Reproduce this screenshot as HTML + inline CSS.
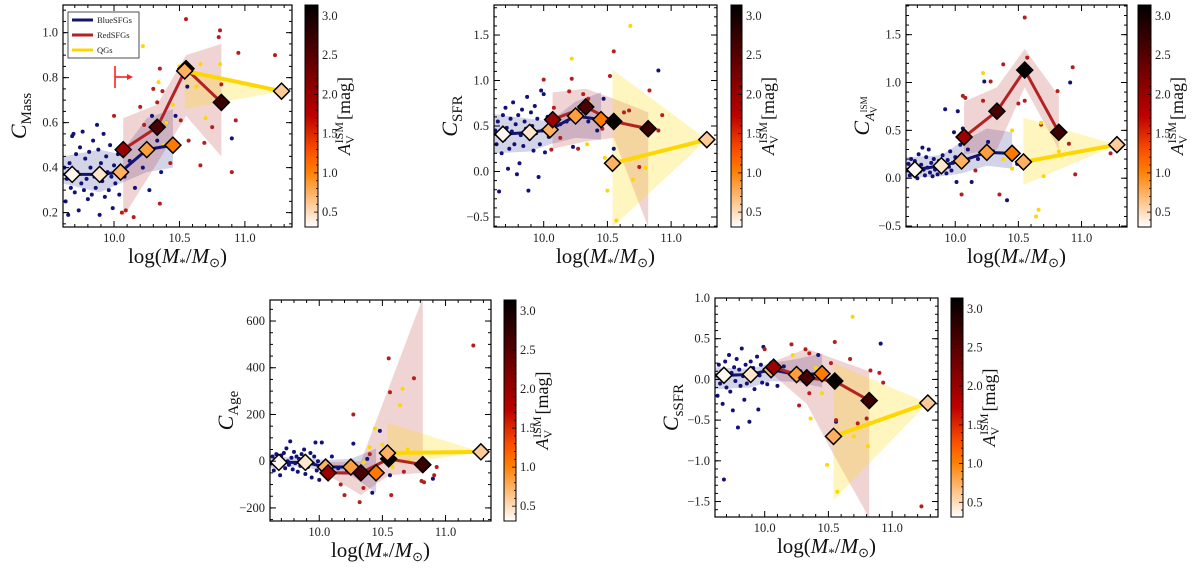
<!DOCTYPE html>
<html><head><meta charset="utf-8">
<style>
html,body{margin:0;padding:0;background:#fff;}
svg{display:block;font-family:"Liberation Serif",serif;}
</style></head>
<body>
<svg id="fig" width="1200" height="569" viewBox="0 0 1200 569" xmlns="http://www.w3.org/2000/svg"></svg>
<script>
// ---------- shared data ----------
const blueX = [9.68, 9.89, 10.05, 10.25, 10.45];
const redX = [10.07, 10.33, 10.55, 10.82];
const qgX = [10.54, 11.28];
const blueAv = [0.35, 0.45, 0.75, 0.85, 1.05];
const redAv = [2.0, 2.6, 3.1, 2.7];
const qgAv = [0.75, 0.6];
const xTicks = [10.0, 10.5, 11.0];
const xTickLabels = ["10.0", "10.5", "11.0"];
const cbTicks = [0.5, 1.0, 1.5, 2.0, 2.5, 3.0];
const cbTickLabels = ["0.5", "1.0", "1.5", "2.0", "2.5", "3.0"];

// ---------- panel 1: C_Mass ----------
const massBlue = [0.37, 0.37, 0.38, 0.48, 0.50];
const massBlueLo = [0.33, 0.29, 0.33, 0.38, 0.40];
const massBlueHi = [0.45, 0.48, 0.46, 0.62, 0.66];
const massRed = [0.48, 0.58, 0.84, 0.69];
const massRedLo = [0.18, 0.42, 0.63, 0.45];
const massRedHi = [0.62, 0.68, 0.90, 0.95];
const massQg = [0.83, 0.74];
const massQgLo = [0.66, 0.74];
const massQgHi = [0.84, 0.74];
const massYTicks = [0.2, 0.4, 0.6, 0.8, 1.0];
const massYLabels = ["0.2", "0.4", "0.6", "0.8", "1.0"];
const massDotsBlue = [[9.62,0.40],[9.63,0.25],[9.64,0.35],[9.65,0.19],[9.66,0.42],[9.67,0.31],[9.68,0.54],[9.69,0.55],[9.70,0.29],[9.71,0.46],[9.72,0.38],[9.73,0.21],[9.74,0.49],[9.75,0.33],[9.76,0.56],[9.77,0.30],[9.78,0.44],[9.79,0.35],[9.80,0.26],[9.81,0.47],[9.82,0.40],[9.83,0.28],[9.84,0.52],[9.85,0.36],[9.86,0.31],[9.87,0.59],[9.88,0.48],[9.89,0.19],[9.90,0.42],[9.91,0.34],[9.92,0.55],[9.93,0.27],[9.94,0.45],[9.95,0.38],[9.96,0.30],[9.97,0.50],[9.98,0.36],[9.99,0.22],[10.00,0.41],[10.01,0.33],[10.03,0.46],[10.04,0.28],[10.08,0.36],[10.12,0.43],[10.16,0.31],[10.22,0.40],[10.27,0.30],[10.29,0.63],[10.33,0.52],[10.36,0.38],[10.40,0.60],[10.47,0.63],[10.56,0.76],[10.90,0.53]];
const massDotsRed = [[10.00,0.63],[10.06,0.20],[10.09,0.21],[10.15,0.18],[10.20,0.67],[10.23,0.59],[10.30,0.75],[10.33,0.69],[10.35,0.84],[10.37,0.74],[10.35,0.24],[10.43,0.42],[10.51,0.61],[10.55,1.06],[10.57,0.52],[10.66,0.41],[10.69,0.51],[10.75,0.58],[10.80,0.98],[10.81,1.01],[10.82,0.77],[10.90,0.38],[10.93,0.61],[10.95,0.91],[11.23,0.90]];
const massDotsQg = [[10.22,0.94],[10.34,0.78],[10.38,0.50],[10.40,0.60],[10.50,0.85],[10.63,0.76],[10.66,0.86],[10.70,0.62],[10.81,0.86],[10.45,0.68]];

// ---------- panel 2: C_SFR ----------
const sfrBlue = [0.41, 0.43, 0.46, 0.61, 0.57];
const sfrBlueLo = [0.20, 0.22, 0.30, 0.37, 0.35];
const sfrBlueHi = [0.63, 0.58, 0.55, 0.77, 0.87];
const sfrRed = [0.57, 0.71, 0.55, 0.47];
const sfrRedLo = [0.25, 0.33, 0.37, -0.61];
const sfrRedHi = [0.87, 0.91, 0.80, 0.65];
const sfrQg = [0.09, 0.35];
const sfrQgLo = [-0.61, 0.35];
const sfrQgHi = [1.12, 0.35];
const sfrYTicks = [-0.5, 0.0, 0.5, 1.0, 1.5];
const sfrYLabels = ["\u22120.5", "0.0", "0.5", "1.0", "1.5"];
const sfrDotsBlue = [[9.62,0.45],[9.63,0.30],[9.64,0.55],[9.65,-0.22],[9.66,0.40],[9.67,0.20],[9.68,0.62],[9.69,0.35],[9.70,0.70],[9.71,0.48],[9.72,0.03],[9.73,0.25],[9.74,0.58],[9.75,0.44],[9.76,0.76],[9.77,0.30],[9.78,0.52],[9.79,-0.03],[9.80,0.62],[9.81,0.09],[9.82,0.40],[9.83,0.68],[9.84,0.28],[9.85,0.55],[9.86,0.47],[9.87,0.82],[9.88,-0.21],[9.89,0.36],[9.90,0.65],[9.91,0.50],[9.92,0.23],[9.93,0.72],[9.94,0.42],[9.95,0.58],[9.96,-0.06],[9.97,0.30],[9.98,0.89],[9.99,0.45],[10.00,0.85],[10.01,0.21],[10.03,0.60],[10.04,0.38],[10.08,0.49],[10.13,0.52],[10.18,0.55],[10.23,0.27],[10.29,0.63],[10.35,0.55],[10.42,0.45],[10.47,0.80],[10.55,0.25],[10.90,1.11]];
const sfrDotsRed = [[10.00,1.01],[10.06,0.24],[10.08,0.70],[10.13,0.37],[10.20,0.88],[10.22,1.02],[10.27,0.25],[10.31,0.85],[10.35,0.80],[10.46,0.47],[10.52,1.05],[10.55,1.32],[10.63,0.65],[10.67,0.67],[10.75,0.05],[10.83,0.89],[10.90,0.45],[10.93,0.62]];
const sfrDotsQg = [[10.22,1.24],[10.34,0.30],[10.36,0.75],[10.48,0.15],[10.50,-0.21],[10.57,-0.54],[10.68,1.60],[10.70,-0.09],[10.80,0.04]];

// ---------- panel 3: C_AV ----------
const avBlue = [0.09, 0.13, 0.18, 0.27, 0.26];
const avBlueLo = [0.00, 0.02, 0.05, 0.13, 0.10];
const avBlueHi = [0.22, 0.24, 0.38, 0.52, 0.48];
const avRed = [0.43, 0.70, 1.13, 0.48];
const avRedLo = [0.25, 0.30, 0.95, 0.30];
const avRedHi = [0.80, 0.95, 1.35, 0.86];
const avQg = [0.17, 0.35];
const avQgLo = [-0.07, 0.35];
const avQgHi = [0.63, 0.35];
const avYTicks = [-0.5, 0.0, 0.5, 1.0, 1.5];
const avYLabels = ["\u22120.5", "0.0", "0.5", "1.0", "1.5"];
const avDotsBlue = [[9.62,0.08],[9.63,0.15],[9.64,0.03],[9.65,0.20],[9.66,0.10],[9.67,0.05],[9.68,0.18],[9.69,0.12],[9.70,0.00],[9.71,0.25],[9.72,0.07],[9.73,0.14],[9.74,0.32],[9.75,0.09],[9.76,0.03],[9.77,0.22],[9.78,0.11],[9.79,0.30],[9.80,0.06],[9.81,0.16],[9.82,0.02],[9.83,0.20],[9.84,0.09],[9.85,0.13],[9.86,0.04],[9.87,0.18],[9.88,0.10],[9.89,0.07],[9.90,0.24],[9.91,0.15],[9.92,0.72],[9.93,0.05],[9.94,0.19],[9.95,0.12],[9.96,0.28],[9.97,0.08],[9.98,0.16],[9.99,0.48],[10.00,0.22],[10.01,-0.04],[10.02,0.70],[10.04,0.35],[10.06,0.52],[10.10,0.30],[10.13,-0.04],[10.18,0.20],[10.23,1.01],[10.26,0.38],[10.30,0.28],[10.41,-0.23],[10.49,0.15],[10.91,1.00]];
const avDotsRed = [[10.05,-0.17],[10.06,0.86],[10.08,0.84],[10.16,0.08],[10.22,0.81],[10.28,1.01],[10.35,-0.17],[10.38,1.19],[10.50,0.78],[10.55,0.81],[10.57,1.26],[10.55,1.68],[10.68,0.56],[10.81,0.91],[10.90,0.36],[10.93,1.16],[10.95,0.04],[11.23,0.26]];
const avDotsQg = [[10.22,1.10],[10.35,0.75],[10.38,0.20],[10.45,0.50],[10.45,0.10],[10.64,-0.40],[10.66,-0.33],[10.68,0.58],[10.70,0.02],[10.82,0.28]];

// ---------- panel 4: C_Age ----------
const ageBlue = [-5, -5, -25, -25, -50];
const ageBlueLo = [-30, -20, -55, -60, -135];
const ageBlueHi = [20, 15, 5, 10, 55];
const ageRed = [-50, -50, 10, -15];
const ageRedLo = [-60, -145, -60, -50];
const ageRedHi = [-5, 0, 314, 700];
const ageQg = [35, 40];
const ageQgLo = [-20, 40];
const ageQgHi = [165, 40];
const ageYTicks = [-200, 0, 200, 400, 600];
const ageYLabels = ["\u2212200", "0", "200", "400", "600"];
const ageDotsBlue = [[9.62,-10],[9.63,20],[9.64,-40],[9.65,5],[9.66,30],[9.67,-20],[9.68,10],[9.69,-60],[9.70,25],[9.71,-5],[9.72,35],[9.73,-30],[9.74,55],[9.75,0],[9.76,-15],[9.77,85],[9.78,15],[9.79,-35],[9.80,40],[9.81,-8],[9.82,20],[9.83,-45],[9.84,10],[9.85,-20],[9.86,30],[9.87,-5],[9.88,50],[9.89,-55],[9.90,15],[9.91,-25],[9.92,5],[9.93,35],[9.94,-70],[9.95,-10],[9.96,20],[9.97,80],[9.98,-40],[9.99,0],[10.00,-80],[10.02,80],[10.05,-20],[10.10,20],[10.15,-30],[10.22,-40],[10.27,75],[10.30,-60],[10.38,10],[10.42,-135],[10.48,130],[10.56,-60],[10.90,-75]];
const ageDotsRed = [[10.06,-20],[10.17,-100],[10.20,-145],[10.27,200],[10.32,-175],[10.35,-115],[10.40,30],[10.55,440],[10.56,295],[10.57,-145],[10.67,-45],[10.75,355],[10.81,-85],[10.83,-90],[10.91,-60],[10.93,-25],[11.22,495]];
const ageDotsQg = [[10.35,-5],[10.40,60],[10.44,140],[10.50,70],[10.58,-25],[10.64,240],[10.66,310],[10.70,50],[10.71,0]];

// ---------- panel 5: C_sSFR ----------
const ssfrBlue = [0.05, 0.06, 0.12, 0.06, 0.07];
const ssfrBlueLo = [-0.12, -0.10, -0.02, -0.03, -0.10];
const ssfrBlueHi = [0.15, 0.13, 0.20, 0.25, 0.32];
const ssfrRed = [0.15, 0.02, -0.02, -0.26];
const ssfrRedLo = [0.05, -0.30, -0.95, -1.70];
const ssfrRedHi = [0.22, 0.38, 0.25, 0.10];
const ssfrQg = [-0.70, -0.29];
const ssfrQgLo = [-1.48, -0.29];
const ssfrQgHi = [0.20, -0.29];
const ssfrYTicks = [-1.5, -1.0, -0.5, 0.0, 0.5, 1.0];
const ssfrYLabels = ["\u22121.5", "\u22121.0", "\u22120.5", "0.0", "0.5", "1.0"];
const ssfrDotsBlue = [[9.62,0.05],[9.63,-0.20],[9.64,0.18],[9.65,-0.05],[9.66,0.10],[9.67,-0.30],[9.68,-1.23],[9.69,0.22],[9.70,-0.10],[9.71,0.02],[9.72,0.30],[9.73,-0.15],[9.74,0.08],[9.75,-0.38],[9.76,0.15],[9.77,-0.02],[9.78,0.25],[9.79,-0.59],[9.80,0.12],[9.81,-0.08],[9.82,0.38],[9.83,0.04],[9.84,-0.25],[9.85,0.18],[9.86,-0.05],[9.87,0.10],[9.88,-0.52],[9.89,0.22],[9.90,0.00],[9.91,0.14],[9.92,-0.12],[9.93,0.08],[9.94,0.28],[9.95,-0.37],[9.96,0.05],[9.97,0.18],[9.98,-0.04],[9.99,0.40],[10.00,0.12],[10.02,-0.06],[10.05,0.20],[10.10,-0.08],[10.15,0.16],[10.22,0.03],[10.28,0.10],[10.35,0.05],[10.42,0.30],[10.56,-0.52],[10.91,0.44]];
const ssfrDotsRed = [[10.00,0.37],[10.21,0.43],[10.24,0.00],[10.27,-0.32],[10.32,0.37],[10.35,0.32],[10.35,-0.17],[10.52,0.20],[10.55,0.46],[10.56,-0.50],[10.67,0.25],[10.73,-0.54],[10.80,-0.48],[10.83,0.11],[10.90,0.08],[10.93,-0.04],[11.23,-1.56]];
const ssfrDotsQg = [[10.22,0.30],[10.36,-0.48],[10.40,0.14],[10.45,-0.17],[10.49,-1.05],[10.52,-0.70],[10.57,-1.38],[10.69,0.77],[10.70,-0.70],[10.81,-0.82]];

// ---------- layout (not data) ----------
const panels = [
  {id:"mass", x0:63,x1:292,y0:5,y1:227,ymin:0.136,ymax:1.123,cb0:305,cb1:318,minorY:0.05,
   blue:massBlue,blueLo:massBlueLo,blueHi:massBlueHi,red:massRed,redLo:massRedLo,redHi:massRedHi,qg:massQg,qgLo:massQgLo,qgHi:massQgHi,
   yt:massYTicks,yl:massYLabels,db:massDotsBlue,dr:massDotsRed,dq:massDotsQg,lab:["Mass"],legend:true},
  {id:"sfr", x0:494,x1:717,y0:5,y1:227,ymin:-0.61,ymax:1.83,cb0:731,cb1:742,minorY:0.1,
   blue:sfrBlue,blueLo:sfrBlueLo,blueHi:sfrBlueHi,red:sfrRed,redLo:sfrRedLo,redHi:sfrRedHi,qg:sfrQg,qgLo:sfrQgLo,qgHi:sfrQgHi,
   yt:sfrYTicks,yl:sfrYLabels,db:sfrDotsBlue,dr:sfrDotsRed,dq:sfrDotsQg,lab:["SFR"]},
  {id:"av", x0:906,x1:1127,y0:5,y1:227,ymin:-0.51,ymax:1.81,cb0:1138,cb1:1151,minorY:0.1,
   blue:avBlue,blueLo:avBlueLo,blueHi:avBlueHi,red:avRed,redLo:avRedLo,redHi:avRedHi,qg:avQg,qgLo:avQgLo,qgHi:avQgHi,
   yt:avYTicks,yl:avYLabels,db:avDotsBlue,dr:avDotsRed,dq:avDotsQg,lab:["AV"]},
  {id:"age", x0:270,x1:491,y0:300,y1:521,ymin:-256,ymax:690,cb0:504,cb1:516,minorY:50,
   blue:ageBlue,blueLo:ageBlueLo,blueHi:ageBlueHi,red:ageRed,redLo:ageRedLo,redHi:ageRedHi,qg:ageQg,qgLo:ageQgLo,qgHi:ageQgHi,
   yt:ageYTicks,yl:ageYLabels,db:ageDotsBlue,dr:ageDotsRed,dq:ageDotsQg,lab:["Age"]},
  {id:"ssfr", x0:715,x1:938,y0:298,y1:517,ymin:-1.69,ymax:1.0,cb0:951,cb1:963,minorY:0.1,
   blue:ssfrBlue,blueLo:ssfrBlueLo,blueHi:ssfrBlueHi,red:ssfrRed,redLo:ssfrRedLo,redHi:ssfrRedHi,qg:ssfrQg,qgLo:ssfrQgLo,qgHi:ssfrQgHi,
   yt:ssfrYTicks,yl:ssfrYLabels,db:ssfrDotsBlue,dr:ssfrDotsRed,dq:ssfrDotsQg,lab:["sSFR"]}
];
const XMIN = 9.61, XMAX = 11.36, CMIN = 0.31, CMAX = 3.14;
const NS = "http://www.w3.org/2000/svg";
const svg = document.getElementById("fig");

function mk(tag, attrs, parent){
  const e = document.createElementNS(NS, tag);
  for (const k in attrs) e.setAttribute(k, attrs[k]);
  (parent||svg).appendChild(e);
  return e;
}
function cmap(v){
  let t = 1 - Math.max(0, Math.min(1, (v - CMIN)/(CMAX - CMIN)));
  const r = Math.min(1, 1.5*t), g = Math.max(0, 2*t-1), b = Math.max(0, 4*t-3);
  return "rgb(" + Math.round(r*255) + "," + Math.round(g*255) + "," + Math.round(b*255) + ")";
}

const defs = mk("defs", {});
const grad = mk("linearGradient", {id:"cbgrad", x1:"0", y1:"1", x2:"0", y2:"0"}, defs);
for (let i = 0; i <= 20; i++){
  mk("stop", {offset:(i/20), "stop-color":cmap(CMIN + (CMAX-CMIN)*i/20)}, grad);
}

panels.forEach(function(p){
  const g = mk("g", {});
  
  
  const sx = function(v){ return p.x0 + (v - XMIN)/(XMAX - XMIN)*(p.x1 - p.x0); };
  const sy = function(v){ return p.y1 - (v - p.ymin)/(p.ymax - p.ymin)*(p.y1 - p.y0); };
  const clipId = "clip-" + p.id;
  const cp = mk("clipPath", {id:clipId}, defs);
  mk("rect", {x:p.x0, y:p.y0, width:p.x1-p.x0, height:p.y1-p.y0}, cp);
  const plot = mk("g", {"clip-path":"url(#"+clipId+")"}, g);

  function band(xs, lo, hi, fill, name, extendLeft){
    let pts = [];
    let xx = xs.slice();
    if (extendLeft) xx[0] = XMIN;
    for (let i = 0; i < xx.length; i++) pts.push(sx(xx[i]) + "," + sy(hi[i]));
    for (let i = xx.length-1; i >= 0; i--) pts.push(sx(xx[i]) + "," + sy(lo[i]));
    const el = mk("polygon", {points:pts.join(" "), fill:fill}, plot);
    
    
  }
  band(blueX, p.blueLo, p.blueHi, "rgba(60,60,150,0.22)", "blue-sfg-band", true);
  band(redX, p.redLo, p.redHi, "rgba(180,40,40,0.2)", "red-sfg-band", false);
  band(qgX, p.qgLo, p.qgHi, "rgba(255,215,0,0.25)", "qg-band", false);

  function dots(arr, col, name){
    arr.forEach(function(d){
      const c = mk("circle", {cx:sx(d[0]), cy:sy(d[1]), r:2, fill:col}, plot);
      
      
    });
  }
  dots(p.db, "#111177", "blue-sfg-dot");
  dots(p.dr, "#b41e1e", "red-sfg-dot");
  dots(p.dq, "#ffd700", "qg-dot");

  function line(xs, ys, col, w, name, extendLeft){
    let pts = [];
    if (extendLeft) pts.push(sx(XMIN) + "," + sy(ys[0]));
    for (let i = 0; i < xs.length; i++) pts.push(sx(xs[i]) + "," + sy(ys[i]));
    const el = mk("polyline", {points:pts.join(" "), fill:"none", stroke:col, "stroke-width":w, "stroke-linejoin":"round"}, plot);
    
    
  }
  line(blueX, p.blue, "#14146e", 3, "blue-sfg-line", true);
  line(redX, p.red, "#b22222", 3, "red-sfg-line", false);
  line(qgX, p.qg, "#ffd700", 4, "qg-line", false);

  function diamonds(xs, ys, cs, name){
    for (let i = 0; i < xs.length; i++){
      const cx = sx(xs[i]), cy = sy(ys[i]), s = 8;
      const el = mk("polygon", {points:(cx)+","+(cy-s)+" "+(cx+s)+","+cy+" "+cx+","+(cy+s)+" "+(cx-s)+","+cy,
        fill:cmap(cs[i]), stroke:"#000", "stroke-width":1.5}, plot);
      
      
    }
  }
  diamonds(blueX, p.blue, blueAv, "blue-sfg-marker");
  diamonds(redX, p.red, redAv, "red-sfg-marker");
  diamonds(qgX, p.qg, qgAv, "qg-marker");

  mk("rect", {x:p.x0, y:p.y0, width:p.x1-p.x0, height:p.y1-p.y0, fill:"none", stroke:"#000", "stroke-width":1.2}, g);
  for (let v = 9.7; v < XMAX; v += 0.1){
    const vv = Math.round(v*10)/10;
    const X = sx(vv);
    const major = Math.abs(vv*2 - Math.round(vv*2)) < 1e-6;
    const L = major ? 6 : 3;
    mk("line", {x1:X, x2:X, y1:p.y1, y2:p.y1-L, stroke:"#000", "stroke-width":1}, g);
    mk("line", {x1:X, x2:X, y1:p.y0, y2:p.y0+L, stroke:"#000", "stroke-width":1}, g);
  }
  xTicks.forEach(function(v, i){
    const t = mk("text", {x:sx(v), y:p.y1+15, "font-size":12.5, "text-anchor":"middle", fill:"#222"}, g);
    t.textContent = xTickLabels[i];
    
    
  });
  const st = p.minorY;
  for (let v = Math.ceil(p.ymin/st)*st; v <= p.ymax; v += st){
    const Y = sy(v);
    mk("line", {x1:p.x0, x2:p.x0+3, y1:Y, y2:Y, stroke:"#000", "stroke-width":1}, g);
    mk("line", {x1:p.x1, x2:p.x1-3, y1:Y, y2:Y, stroke:"#000", "stroke-width":1}, g);
  }
  p.yt.forEach(function(v, i){
    const Y = sy(v);
    mk("line", {x1:p.x0, x2:p.x0+6, y1:Y, y2:Y, stroke:"#000", "stroke-width":1}, g);
    mk("line", {x1:p.x1, x2:p.x1-6, y1:Y, y2:Y, stroke:"#000", "stroke-width":1}, g);
    const t = mk("text", {x:p.x0-5, y:Y+4, "font-size":12.5, "text-anchor":"end", fill:"#222"}, g);
    t.textContent = p.yl[i];
    
    
  });
  const xl = mk("text", {x:(p.x0+p.x1)/2, y:p.y1+36, "font-size":21, "text-anchor":"middle", fill:"#111"}, g);
  xl.innerHTML = 'log(<tspan font-style="italic">M</tspan><tspan font-size="13" dy="4">*</tspan><tspan dy="-4">/</tspan><tspan font-style="italic">M</tspan><tspan font-size="13" dy="4">⊙</tspan><tspan dy="-4">)</tspan>';
  
  
  const cyv = (p.y0+p.y1)/2;
  const yl = mk("text", {x:0, y:0, "font-size":22, "text-anchor":"middle", fill:"#111",
     transform:"translate("+(p.x0-37)+","+cyv+") rotate(-90)"}, g);
  if (p.id === "av") {
    yl.innerHTML = '<tspan font-style="italic">C</tspan><tspan font-size="13" dy="5" font-style="italic">A</tspan><tspan font-size="9" dy="3">V</tspan><tspan font-size="9" dx="-6" dy="-10">ISM</tspan>';
  } else {
    yl.innerHTML = '<tspan font-style="italic">C</tspan><tspan font-size="15" dy="5">' + p.lab[0] + '</tspan>';
  }
  
  

  const cb = mk("rect", {x:p.cb0, y:p.y0, width:p.cb1-p.cb0, height:p.y1-p.y0, fill:"url(#cbgrad)", stroke:"#000", "stroke-width":1}, g);
  
  
  const sc = function(v){ return p.y1 - (v - CMIN)/(CMAX - CMIN)*(p.y1 - p.y0); };
  for (let v = 0.4; v < CMAX; v += 0.1){
    const Y = sc(v);
    const major = Math.abs(v*2 - Math.round(v*2)) < 1e-6;
    mk("line", {x1:p.cb1, x2:p.cb1-(major?4:2), y1:Y, y2:Y, stroke:"#000", "stroke-width":0.8}, g);
  }
  cbTicks.forEach(function(v, i){
    const t = mk("text", {x:p.cb1+4, y:sc(v)+4, "font-size":12.5, fill:"#222"}, g);
    t.textContent = cbTickLabels[i];
    
    
  });
  const cl = mk("text", {x:0, y:0, "font-size":18, "text-anchor":"middle", fill:"#111",
     transform:"translate("+(p.cb1+32)+","+cyv+") rotate(-90)"}, g);
  cl.innerHTML = '<tspan font-style="italic">A</tspan><tspan font-size="12" dy="4">V</tspan><tspan font-size="12" dx="-8" dy="-11">ISM</tspan><tspan dy="7" dx="2">[mag]</tspan>';
  
  

  if (p.legend){
    const lg = mk("g", {}, g);
    
    
    mk("rect", {x:68, y:12, width:71, height:46, fill:"#fff", stroke:"#222", "stroke-width":0.8}, lg);
    const items = [["BlueSFGs","#14146e"],["RedSFGs","#b22222"],["QGs","#ffd700"]];
    items.forEach(function(it, i){
      const yy = 20 + i*15;
      mk("line", {x1:72, x2:93, y1:yy, y2:yy, stroke:it[1], "stroke-width":3}, lg);
      const t = mk("text", {x:97, y:yy+3, "font-size":8.5, fill:"#222"}, lg);
      t.textContent = it[0];
      
      
    });
    const ar = mk("g", {stroke:"#ff2020", "stroke-width":1.6, fill:"none"}, g);
    
    
    mk("line", {x1:115, x2:115, y1:66, y2:88}, ar);
    mk("line", {x1:115, x2:131, y1:77, y2:77}, ar);
    mk("polygon", {points:"133,77 127,74 127,80", fill:"#ff2020", stroke:"none"}, ar);
  }
});
</script>
</body></html>
